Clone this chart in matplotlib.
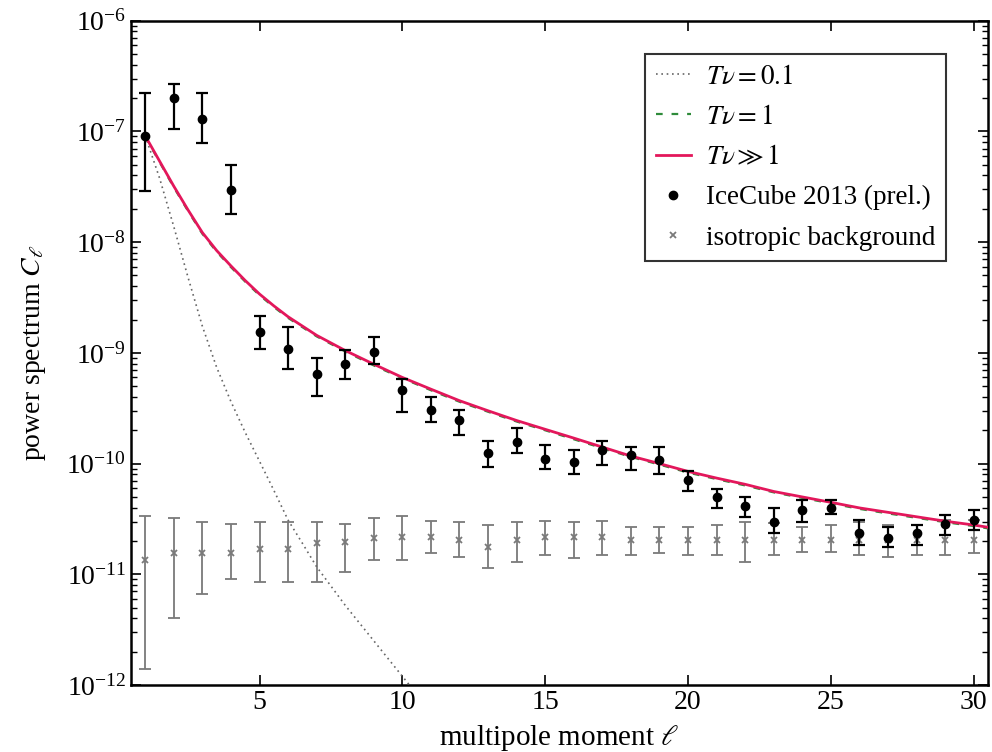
import numpy as np
import matplotlib
matplotlib.use("Agg")
import matplotlib.pyplot as plt
from matplotlib.ticker import LogLocator, NullFormatter, FixedLocator

plt.rcParams['font.family'] = ['Liberation Serif', 'DejaVu Serif']
plt.rcParams['mathtext.fontset'] = 'stix'

# ---------------- data ----------------
ell = np.arange(1, 31)

ice_c = [9.1e-8, 2.0e-7, 1.29e-7, 2.96e-8, 1.55e-9, 1.08e-9, 6.5e-10, 8.0e-10, 1.02e-9, 4.6e-10,
         3.05e-10, 2.48e-10, 1.24e-10, 1.57e-10, 1.11e-10, 1.04e-10, 1.32e-10, 1.19e-10, 1.08e-10, 7.1e-11,
         5.0e-11, 4.1e-11, 3.0e-11, 3.8e-11, 4.0e-11, 2.34e-11, 2.15e-11, 2.34e-11, 2.83e-11, 3.1e-11]
ice_hi = [2.2e-7, 2.7e-7, 2.2e-7, 5.0e-8, 2.16e-9, 1.7e-9, 9.0e-10, 1.06e-9, 1.38e-9, 5.8e-10,
          3.99e-10, 3.06e-10, 1.6e-10, 2.08e-10, 1.47e-10, 1.32e-10, 1.6e-10, 1.40e-10, 1.42e-10, 8.6e-11,
          5.85e-11, 5.0e-11, 3.96e-11, 4.68e-11, 4.68e-11, 3.09e-11, 2.67e-11, 2.78e-11, 3.43e-11, 3.8e-11]
ice_lo = [2.9e-8, 1.05e-7, 7.8e-8, 1.8e-8, 1.08e-9, 7.1e-10, 4.1e-10, 5.8e-10, 8.0e-10, 2.9e-10,
          2.37e-10, 1.81e-10, 9.4e-11, 1.24e-10, 8.9e-11, 8.0e-11, 9.7e-11, 8.7e-11, 8.1e-11, 5.6e-11,
          4.0e-11, 3.27e-11, 2.36e-11, 2.96e-11, 3.5e-11, 1.84e-11, 1.76e-11, 1.84e-11, 2.26e-11, 2.5e-11]

iso_c = [1.34e-11, 1.55e-11, 1.55e-11, 1.55e-11, 1.71e-11, 1.71e-11, 1.90e-11, 1.97e-11, 2.11e-11, 2.17e-11,
         2.17e-11, 2.04e-11, 1.76e-11, 2.04e-11, 2.17e-11, 2.17e-11, 2.17e-11, 2.04e-11, 2.04e-11, 2.04e-11,
         2.04e-11, 2.04e-11, 2.04e-11, 2.04e-11, 2.04e-11, 2.04e-11, 2.04e-11, 2.04e-11, 2.04e-11, 2.04e-11]
iso_hi = [3.36e-11, 3.24e-11, 2.98e-11, 2.84e-11, 2.94e-11, 2.98e-11, 2.94e-11, 2.84e-11, 3.2e-11, 3.36e-11,
          3.03e-11, 2.96e-11, 2.78e-11, 2.96e-11, 3.03e-11, 2.96e-11, 3.03e-11, 2.67e-11, 2.67e-11, 2.67e-11,
          2.78e-11, 2.96e-11, 2.90e-11, 2.67e-11, 2.78e-11, 2.96e-11, 2.78e-11, 2.78e-11, 3.09e-11, 3.09e-11]
iso_lo = [1.4e-12, 4.07e-12, 6.7e-12, 9.06e-12, 8.56e-12, 8.5e-12, 8.56e-12, 1.04e-11, 1.34e-11, 1.34e-11,
          1.56e-11, 1.43e-11, 1.14e-11, 1.29e-11, 1.49e-11, 1.40e-11, 1.49e-11, 1.49e-11, 1.56e-11, 1.49e-11,
          1.49e-11, 1.29e-11, 1.49e-11, 1.59e-11, 1.59e-11, 1.49e-11, 1.43e-11, 1.49e-11, 1.49e-11, 1.56e-11]

# model curves
model_ell = [1, 1.5, 2, 2.5, 3, 3.5, 4, 4.5, 5, 5.5, 6, 7, 8, 9, 10, 11, 12, 13, 14, 15, 16, 17, 18, 19,
             20, 21, 22, 23, 24, 25, 26, 27, 28, 29, 30, 30.5]
model_big = [9.12e-8, 5.4e-8, 3.2e-8, 1.95e-8, 1.22e-8, 8.4e-9, 6.1e-9, 4.5e-9, 3.4e-9, 2.66e-9,
             2.12e-9, 1.44e-9, 1.05e-9, 7.9e-10, 6.0e-10, 4.7e-10, 3.7e-10, 3.0e-10, 2.45e-10, 2.04e-10,
             1.70e-10, 1.41e-10, 1.17e-10, 1.0e-10, 8.5e-11, 7.4e-11, 6.5e-11, 5.6e-11, 5.0e-11, 4.47e-11,
             3.98e-11, 3.63e-11, 3.31e-11, 3.02e-11, 2.79e-11, 2.66e-11]
model_one = [9.0e-8, 5.3e-8, 3.13e-8, 1.91e-8, 1.19e-8, 8.2e-9, 5.95e-9, 4.4e-9, 3.32e-9, 2.6e-9,
             2.07e-9, 1.41e-9, 1.03e-9, 7.7e-10, 5.9e-10, 4.6e-10, 3.62e-10, 2.94e-10, 2.4e-10, 2.0e-10,
             1.66e-10, 1.38e-10, 1.15e-10, 9.8e-11, 8.3e-11, 7.25e-11, 6.35e-11, 5.5e-11, 4.9e-11, 4.38e-11,
             3.9e-11, 3.55e-11, 3.24e-11, 2.96e-11, 2.73e-11, 2.6e-11]
model_small_ell = [1, 1.5, 2, 2.5, 3, 3.5, 4, 4.5, 5, 5.5, 6, 6.5, 7, 8, 9, 10, 10.5]
model_small = [9.12e-8, 3.8e-8, 1.38e-8, 4.79e-9, 1.74e-9, 7.4e-10, 3.63e-10, 1.91e-10, 1.05e-10,
               5.75e-11, 3.09e-11, 1.91e-11, 1.17e-11, 5.25e-12, 2.51e-12, 1.2e-12, 8.3e-13]

legend_labels = [r'$T\nu = 0.1$', r'$T\nu = 1$', r'$T\nu \gg 1$',
                 'IceCube 2013 (prel.)', 'isotropic background']

# ---------------- plot ----------------
fig = plt.figure(figsize=(9.92, 7.52), dpi=100)
ax = fig.add_axes([0.132, 0.089, 0.864, 0.8835])

l1, = ax.plot(model_small_ell, model_small, ls=(0, (1, 2.2)), color='#666666', lw=1.2, zorder=3)
l2, = ax.plot(model_ell, model_one, ls=(0, (3, 4)), color='#2e8b3a', lw=1.6, zorder=3)
l3, = ax.plot(model_ell, model_big, ls='-', color='#e3175b', lw=2.0, zorder=4)

ice_c_a = np.array(ice_c)
e1 = ax.errorbar(ell, ice_c, yerr=[ice_c_a - np.array(ice_lo), np.array(ice_hi) - ice_c_a],
                 fmt='o', color='black', ms=6, elinewidth=1.6, capsize=4.5, capthick=1.6, zorder=5)
iso_c_a = np.array(iso_c)
e2 = ax.errorbar(ell, iso_c, yerr=[iso_c_a - np.array(iso_lo), np.array(iso_hi) - iso_c_a],
                 fmt='x', color='#7a7a7a', ms=4, mew=1.3, elinewidth=1.3, capsize=4, capthick=1.3,
                 zorder=2)

ax.set_yscale('log')
ax.set_xlim(0.5, 30.5)
ax.set_ylim(1e-12, 1e-6)
ax.xaxis.set_major_locator(FixedLocator([5, 10, 15, 20, 25, 30]))
ax.yaxis.set_major_locator(LogLocator(base=10, numticks=10))
ax.yaxis.set_minor_locator(LogLocator(base=10, subs=np.arange(2, 10), numticks=20))
ax.yaxis.set_minor_formatter(NullFormatter())
ax.tick_params(which='both', direction='in', top=True, right=True, labelsize=20)
ax.tick_params(which='major', length=7, width=1.2)
ax.tick_params(which='minor', length=4, width=1.0)
for s in ax.spines.values():
    s.set_linewidth(1.8)

ax.set_xlabel(r'multipole moment $\ell$', fontsize=21, labelpad=6)
ax.set_ylabel(r'power spectrum $C_\ell$', fontsize=20, labelpad=13)

leg = ax.legend([l1, l2, l3, e1[0], e2[0]], legend_labels,
                loc='upper right', fontsize=19.5, frameon=True, fancybox=False,
                edgecolor='black', bbox_to_anchor=(0.951, 0.950), borderaxespad=0,
                borderpad=0.4, handlelength=1.3, handletextpad=0.55,
                labelspacing=0.56, numpoints=1)
leg.get_frame().set_linewidth(1.5)

fig.savefig('out.png', dpi=100)
